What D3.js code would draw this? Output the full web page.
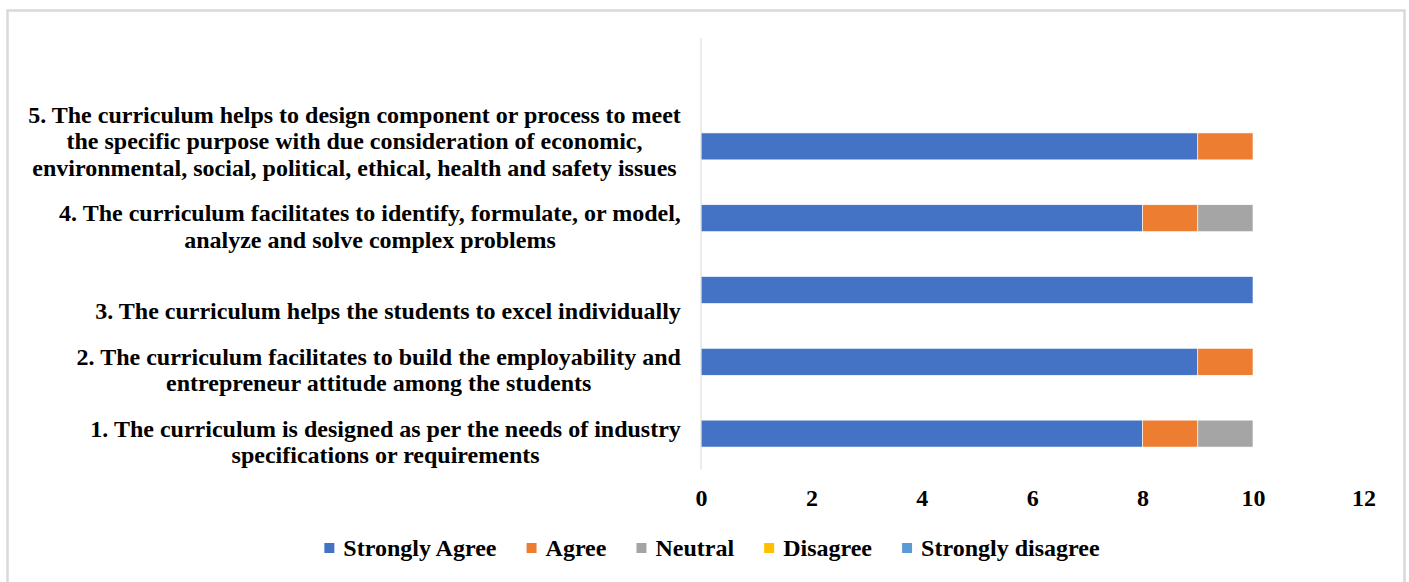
<!DOCTYPE html>
<html>
<head>
<meta charset="utf-8">
<script src="https://cdn.jsdelivr.net/npm/d3@7"></script>
<style>
  body { margin: 0; background: #fff; }
  text { font-family: "Liberation Serif", "Times New Roman", serif; font-weight: bold; fill: #000; }
</style>
</head>
<body>
<svg width="1409" height="582"></svg>
<script>
/*****************************************
*   Data
*****************************************/

// question labels, bottom to top, line breaks as in the picture
const categories = [
    ['1. The curriculum is designed as per the needs of industry', 'specifications or requirements'],
    ['2. The curriculum facilitates to build the employability and', 'entrepreneur attitude among the students'],
    ['3. The curriculum helps the students to excel individually'],
    ['4. The curriculum facilitates to identify, formulate, or model,', 'analyze and solve complex problems'],
    ['5. The curriculum helps to design component or process to meet', 'the specific purpose with due consideration of economic,', 'environmental, social, political, ethical, health and safety issues']
];

const seriesNames = ['Strongly Agree', 'Agree', 'Neutral', 'Disagree', 'Strongly disagree'];
const stronglyAgree = [8, 9, 10, 8, 9];
const agree = [1, 1, 0, 1, 1];
const neutral = [1, 0, 0, 1, 0];
const disagree = [0, 0, 0, 0, 0];
const stronglyDisagree = [0, 0, 0, 0, 0];
const xTicks = [0, 2, 4, 6, 8, 10, 12];

const colors = ['#4472C4', '#ED7D31', '#A5A5A5', '#FFC000', '#5B9BD5'];

/*****************************************
*   Layout
*****************************************/

const FONT_SIZE = 23;
const AXIS_X = 701;
const PLOT_TOP = 38;
const PLOT_BOTTOM = 469.5;
const LABEL_RIGHT = 681;
const LINE_GAP = 26.5;

var svg = d3.select('svg');

// chart frame
svg.append('rect')
    .attr('x', 7.5).attr('y', 10.5)
    .attr('width', 1397).attr('height', 600)
    .attr('fill', '#fff')
    .attr('stroke', '#d9d9d9')
    .attr('stroke-width', 2.5);

var catKeys = categories.map((c, i) => 'c' + i);
var rows = catKeys.map((k, i) => ({
    key: k,
    'Strongly Agree': stronglyAgree[i],
    'Agree': agree[i],
    'Neutral': neutral[i],
    'Disagree': disagree[i],
    'Strongly disagree': stronglyDisagree[i]
}));

var xScale = d3.scaleLinear()
    .domain([0, 12])
    .range([AXIS_X, 1363.4]);

var yScale = d3.scaleBand()
    .domain(catKeys)
    .range([PLOT_BOTTOM, 110.5])
    .paddingInner(0.625)
    .paddingOuter(0.3125);

var colorScale = d3.scaleOrdinal().domain(seriesNames).range(colors);

// measure text to find the horizontal squeeze of the original
var probe = svg.append('text').attr('font-size', FONT_SIZE).text(categories[4][0]);
var sx = 653 / probe.node().getComputedTextLength();
probe.remove();

/*****************************************
*   Bars
*****************************************/

var stacked = d3.stack().keys(seriesNames)(rows);

svg.append('g')
    .selectAll('g')
    .data(stacked)
    .enter()
      .append('g')
      .attr('fill', d => colorScale(d.key))
      .selectAll('rect')
      .data(d => d.filter(s => s[1] - s[0] > 0))
      .enter()
        .append('rect')
        .attr('x', d => xScale(d[0]))
        .attr('width', d => xScale(d[1]) - xScale(d[0]))
        .attr('y', d => yScale(d.data.key))
        .attr('height', yScale.bandwidth())
        .attr('stroke', '#fff')
        .attr('stroke-width', 0.6);

// vertical axis line
svg.append('line')
    .attr('x1', AXIS_X).attr('x2', AXIS_X)
    .attr('y1', PLOT_TOP).attr('y2', PLOT_BOTTOM)
    .attr('stroke', '#d9d9d9')
    .attr('stroke-width', 1);

/*****************************************
*   Category labels
*****************************************/

categories.forEach(function(lines, i) {
    var center = yScale(catKeys[i]) + yScale.bandwidth() / 2;
    var lastBase = center + 29.5;
    var g = svg.append('g');
    var t = g.append('text')
        .attr('font-size', FONT_SIZE)
        .attr('text-anchor', 'middle');
    var widths = [];
    lines.forEach(function(line, j) {
        var ts = t.append('tspan')
            .attr('x', 0)
            .attr('y', lastBase - (lines.length - 1 - j) * LINE_GAP)
            .text(line);
        widths.push(ts.node().getComputedTextLength());
    });
    var maxW = d3.max(widths);
    g.attr('transform', 'translate(' + (LABEL_RIGHT - sx * maxW / 2) + ',0) scale(' + sx + ',1)');
});

/*****************************************
*   X axis
*****************************************/

var xAxis = d3.axisBottom(xScale)
    .tickValues(xTicks)
    .tickSize(0)
    .tickPadding(0)
    .tickFormat(d3.format('d'));

var xg = svg.append('g')
    .attr('transform', 'translate(0,506)')
    .call(xAxis);
xg.select('.domain').remove();
xg.selectAll('text')
    .attr('dy', 0)
    .attr('font-size', FONT_SIZE)
    .attr('transform', 'scale(' + sx + ',1)');
xg.attr('font-family', null).attr('font-size', null);

/*****************************************
*   Legend
*****************************************/

var legend = svg.append('g');
var cursor = 0;
seriesNames.forEach(function(name, i) {
    var item = legend.append('g');
    item.append('rect')
        .attr('x', 0).attr('y', -13)
        .attr('width', 10).attr('height', 10)
        .attr('fill', colors[i]);
    var t = item.append('text')
        .attr('x', 0)
        .attr('font-size', FONT_SIZE)
        .text(name);
    var w = t.node().getComputedTextLength() * sx;
    t.attr('transform', 'translate(19,0) scale(' + sx + ',1)');
    item.attr('transform', 'translate(' + cursor + ',0)');
    cursor += 19 + w + 30;
});
cursor -= 30;
legend.attr('transform', 'translate(' + (712 - cursor / 2) + ',556)');
</script>
</body>
</html>
